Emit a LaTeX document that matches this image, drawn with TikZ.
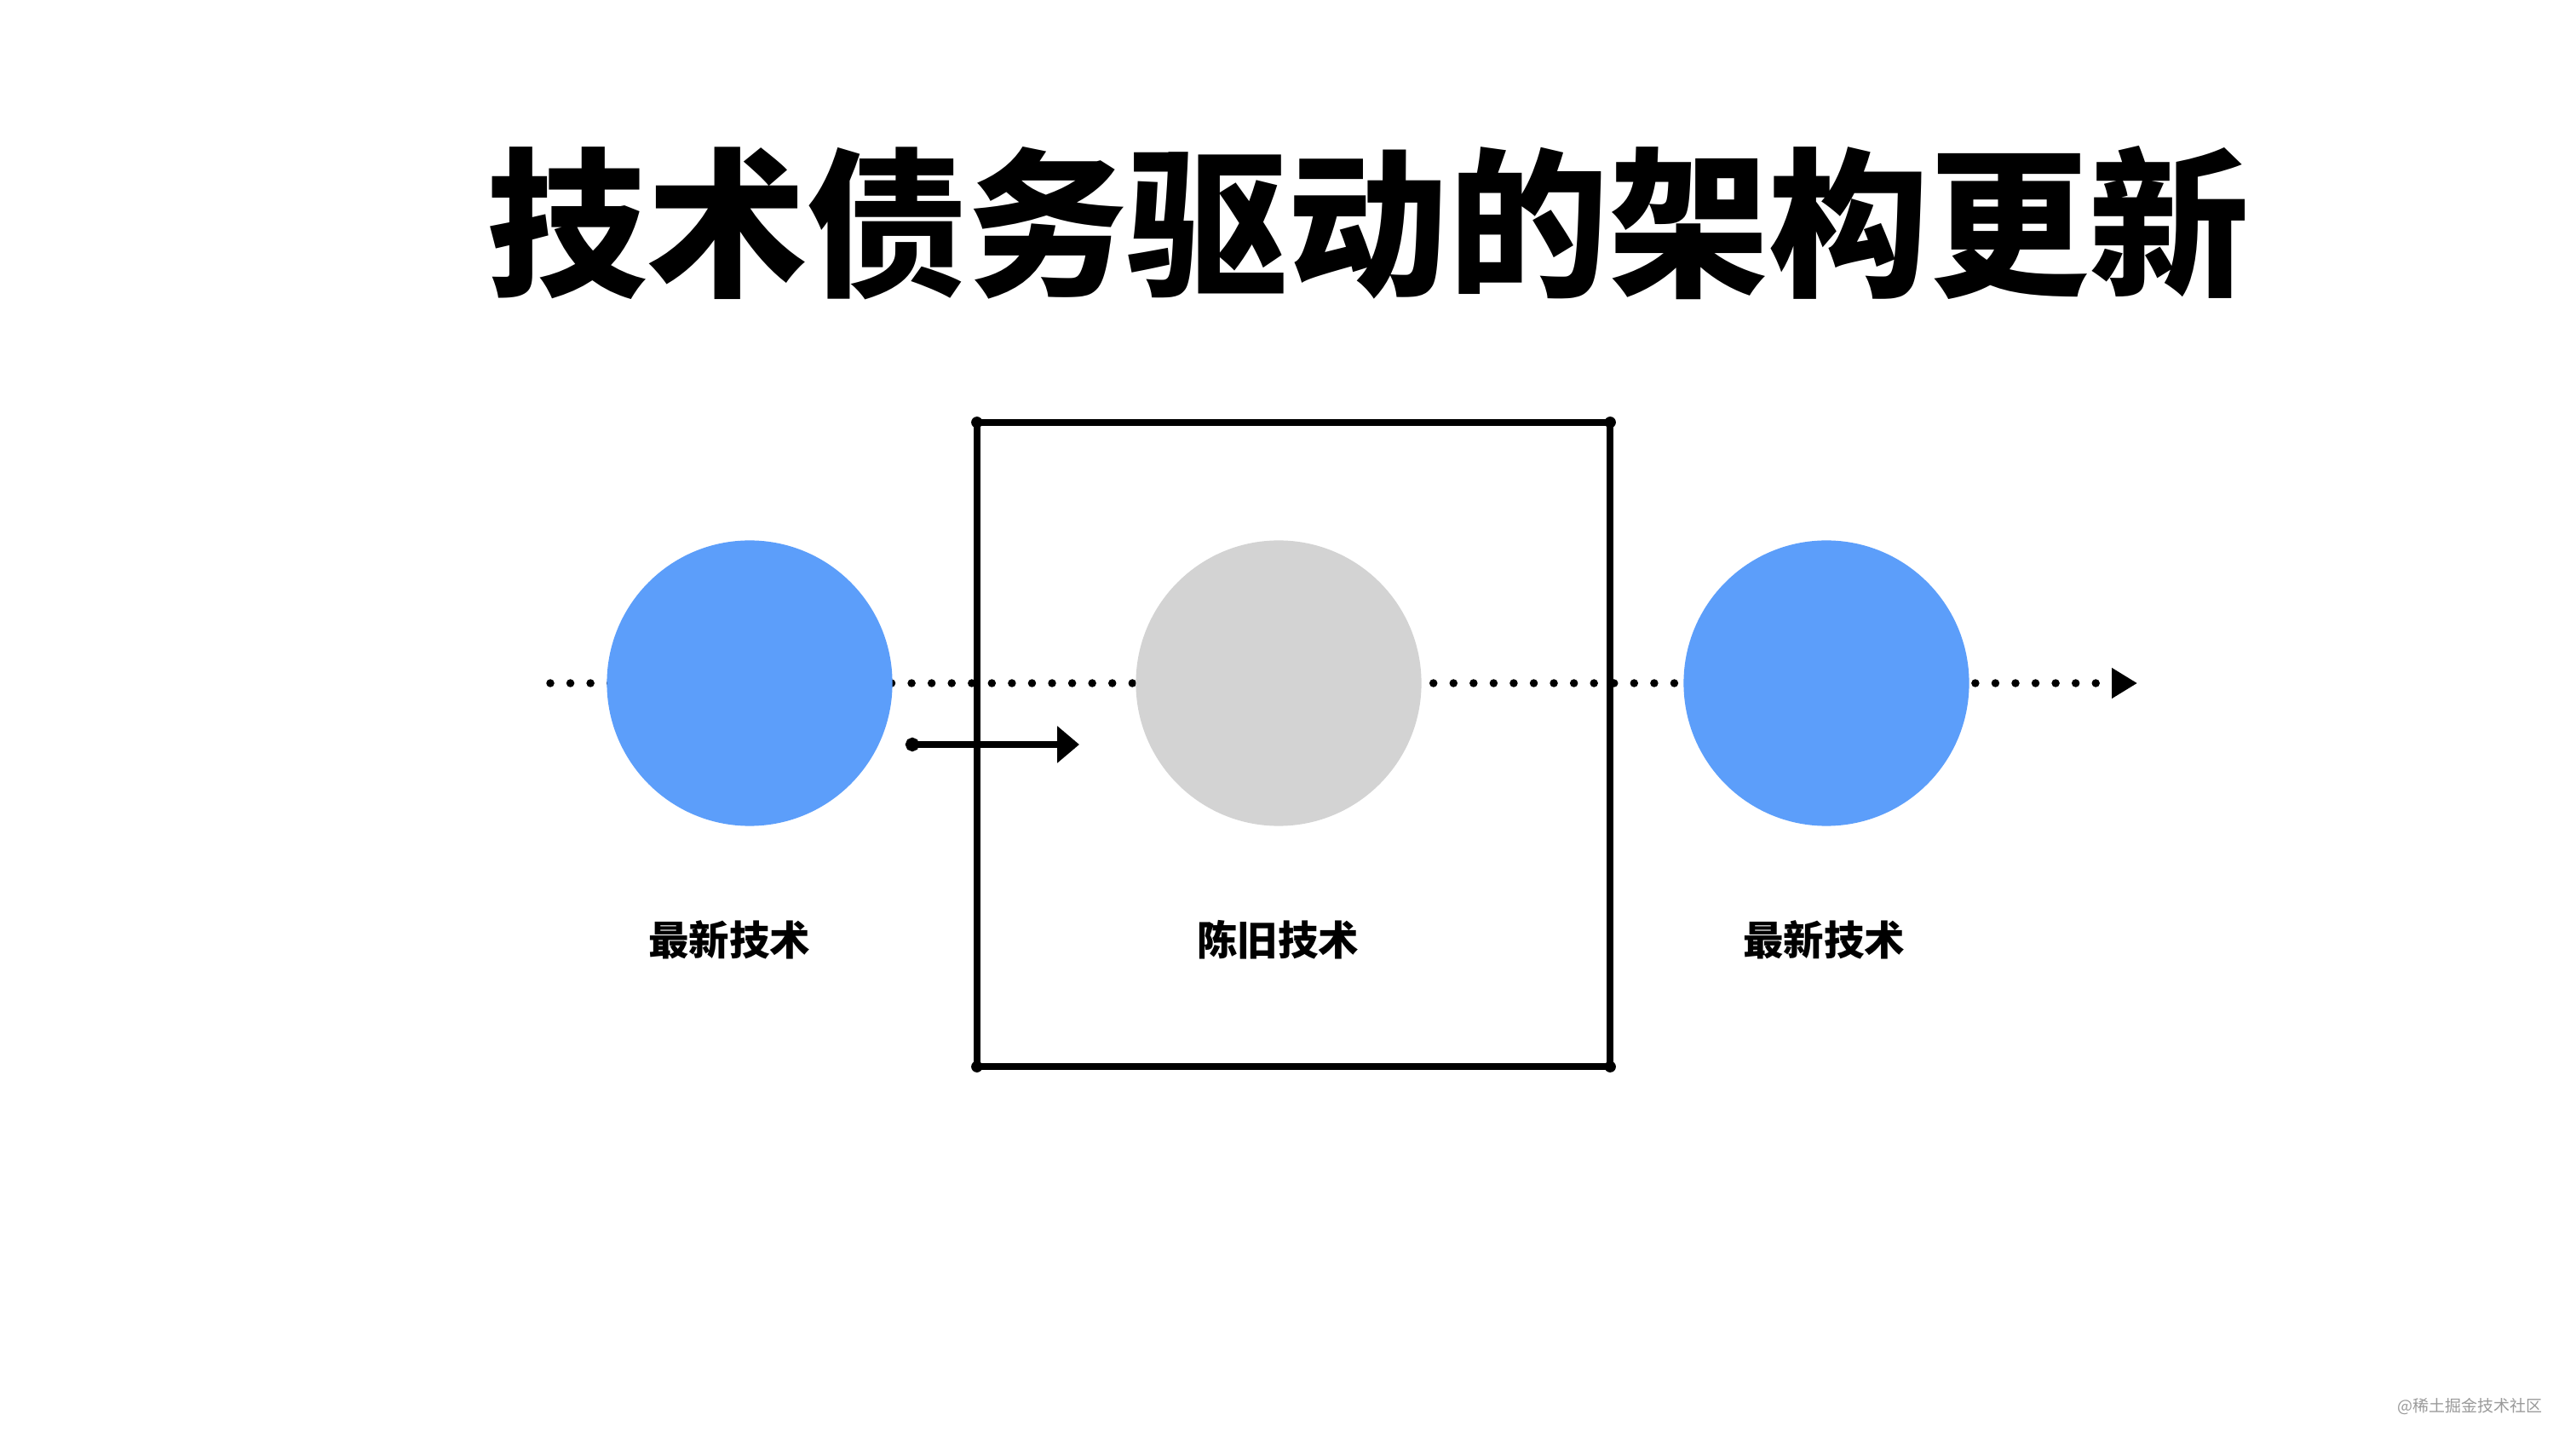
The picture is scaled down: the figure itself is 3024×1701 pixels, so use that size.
\documentclass[tikz,border=0pt]{standalone}
\usepackage{fontspec}
\newfontfamily\cjkfont{Noto Sans CJK SC}
\usetikzlibrary{arrows.meta,positioning}
\definecolor{techblue}{HTML}{5C9EFA}
\definecolor{oldgray}{HTML}{D3D3D3}
\definecolor{markgray}{HTML}{9A9A9A}

\tikzset{
  tech/.style={circle,inner sep=0pt,minimum size=3.35cm,fill=#1},
  techlabel/.style={inner sep=0pt,font=\cjkfont\bfseries\fontsize{13.5}{16}\selectfont},
  timeline/.style={line width=2.7pt,line cap=round,dash pattern=on 0pt off 6.7pt,
    -{Triangle[length=0.3cm,width=0.34cm]}},
  oldbox/.style={draw,line width=2.4pt,line join=round,inner sep=0pt,outer sep=0pt,
    minimum width=7.43cm,minimum height=7.56cm},
  push/.style={line width=2.4pt,{Circle[length=0.16cm]}-{Triangle[length=0.26cm,width=0.42cm]}},
}

\begin{document}
\begin{tikzpicture}[x=0.01cm,y=-0.01cm]
  \path[fill=white] (0,0) rectangle (3024,1701);
  \useasboundingbox (0,0) rectangle (3024,1701);

  \node[inner sep=0pt,font=\cjkfont\bfseries\fontsize{53.5}{60}\selectfont] (title) at (1606,262) {技术债务驱动的架构更新};

  % time axis behind the circles
  \coordinate (axis start) at (646,802);
  \coordinate (axis end) at (2509,802);
  \draw[timeline] (axis start) -- (axis end);

  \node[oldbox] (legacy) at (1518.5,874) {};
  \foreach \c in {north west,north east,south west,south east}
    \fill (legacy.\c) circle[radius=1.9pt];

  \foreach \n/\x/\lx/\col/\t in {newA/880/856/techblue/最新技术,old/1501/1500/oldgray/陈旧技术,newB/2144/2141/techblue/最新技术}{
    \node[tech=\col] (\n) at (\x,802) {};
    \node[techlabel] (\n label) at (\lx,1103) {\t};
  }

  \coordinate (push start) at (1063,874);
  \coordinate (push end) at (1267,874);
  \draw[push] (push start) -- (push end);

  \node[anchor=east,inner sep=0pt,text=markgray,font=\cjkfont\fontsize{5.4}{6}\selectfont] (mark) at (2985,1651) {@稀土掘金技术社区};
\end{tikzpicture}
\end{document}
